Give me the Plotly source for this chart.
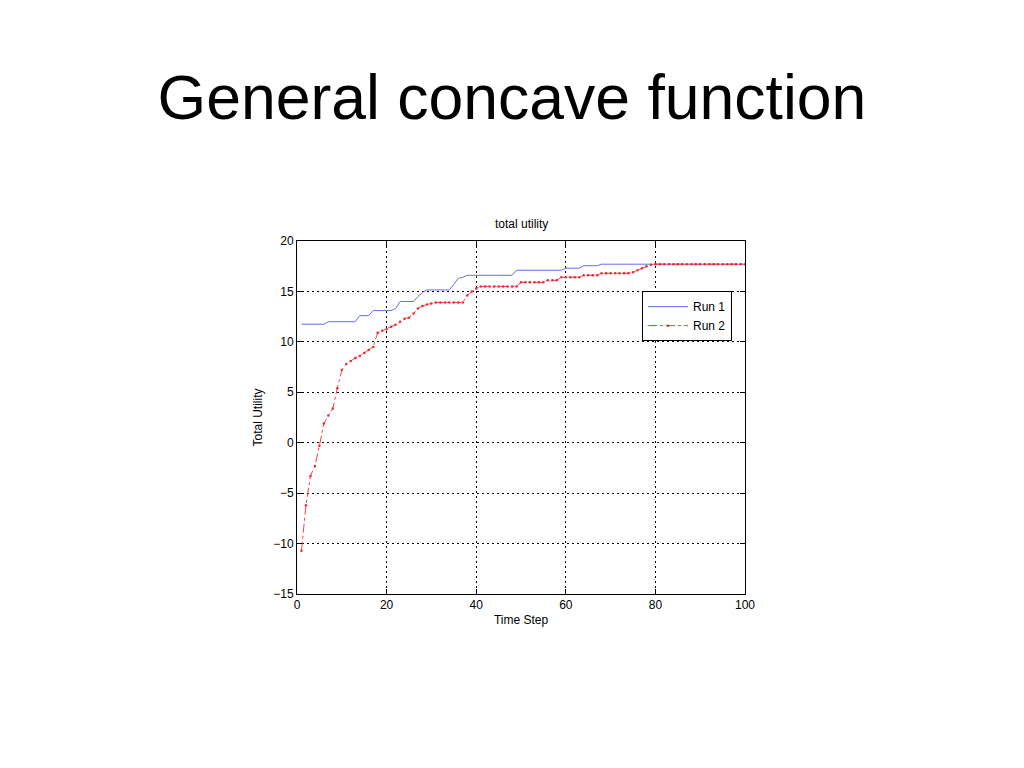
import plotly.graph_objects as go

time_steps = list(range(1, 101))

run1 = ([11.75] * 6 + [12.0] * 7 + [12.6] * 3 + [13.1] * 5 + [13.3] + [14.0] * 4 +
        [14.5, 14.9] + [15.15] * 6 + [15.7, 16.3, 16.4] + [16.6] * 11 + [17.1] * 11 +
        [17.3] * 4 + [17.55] * 4 + [17.7] * 33)

run2 = ([-10.7, -6.2, -3.3, -2.3, -0.3, 1.9, 2.7, 3.4, 5.4, 7.2,
         7.8, 8.1, 8.4, 8.6, 8.9, 9.2, 9.5, 10.9, 11.1, 11.25,
         11.5, 11.7, 12.0, 12.3, 12.4, 12.8, 13.3, 13.55, 13.7, 13.8] +
        [13.9] * 7 + [14.6, 15.0, 15.3] + [15.5] * 9 + [15.9] * 6 + [16.1] * 3 +
        [16.4] * 5 + [16.6] * 4 + [16.8] * 7 + [16.9, 17.1, 17.3, 17.5, 17.65] +
        [17.7] * 21)

x_ticks = [0, 20, 40, 60, 80, 100]
y_ticks = [-15, -10, -5, 0, 5, 10, 15, 20]
y_tick_text = ["\u221215", "\u221210", "\u22125", "0", "5", "10", "15", "20"]

FONT = "Liberation Sans, Arial, Helvetica, sans-serif"

fig = go.Figure()
fig.add_trace(go.Scatter(
    x=time_steps, y=run1, name="Run 1", mode="lines",
    line=dict(color="rgb(100,110,240)", width=1),
))
fig.add_trace(go.Scatter(
    x=time_steps, y=run2, name="Run 2", mode="lines+markers",
    line=dict(color="rgb(255,60,70)", width=1, dash="dashdot"),
    marker=dict(color="rgb(240,40,50)", size=2.5),
))

axis_common = dict(
    showline=True, linecolor="black", linewidth=1, mirror="allticks",
    ticks="inside", ticklen=5, tickcolor="black",
    showgrid=True, gridcolor="black", gridwidth=1, griddash="2px,3px",
    zeroline=False, tickfont=dict(family=FONT, size=12, color="black"),
)

fig.update_layout(
    width=1024, height=768,
    paper_bgcolor="white", plot_bgcolor="white",
    margin=dict(l=289, r=287, t=233, b=182),
    showlegend=True,
    legend=dict(x=0.971, xanchor="right", y=0.858, yanchor="top",
                bgcolor="white", bordercolor="black", borderwidth=1,
                font=dict(family=FONT, size=12, color="black"),
                itemwidth=40, tracegroupgap=0),
    title=dict(text="General concave function", x=(512 - 8) / 1024, xref="container",
               xanchor="center",
               y=1 - 89 / 768, yref="container", yanchor="middle",
               font=dict(family=FONT, size=62.5, color="black")),
    xaxis=dict(range=[0, 100], tickvals=x_ticks, **axis_common,
               title=dict(text="Time Step", font=dict(family=FONT, size=12, color="black"),
                          standoff=4)),
    yaxis=dict(range=[-15, 20], tickvals=y_ticks, ticktext=y_tick_text, **axis_common,
               title=dict(text="Total Utility", font=dict(family=FONT, size=12, color="black"),
                          standoff=8)),
    annotations=[dict(text="total utility", x=0.5, y=1.022, xref="paper", yref="paper",
                      xanchor="center", yanchor="bottom", showarrow=False,
                      font=dict(family=FONT, size=12, color="black"))],
)

fig.write_html("out.html")
